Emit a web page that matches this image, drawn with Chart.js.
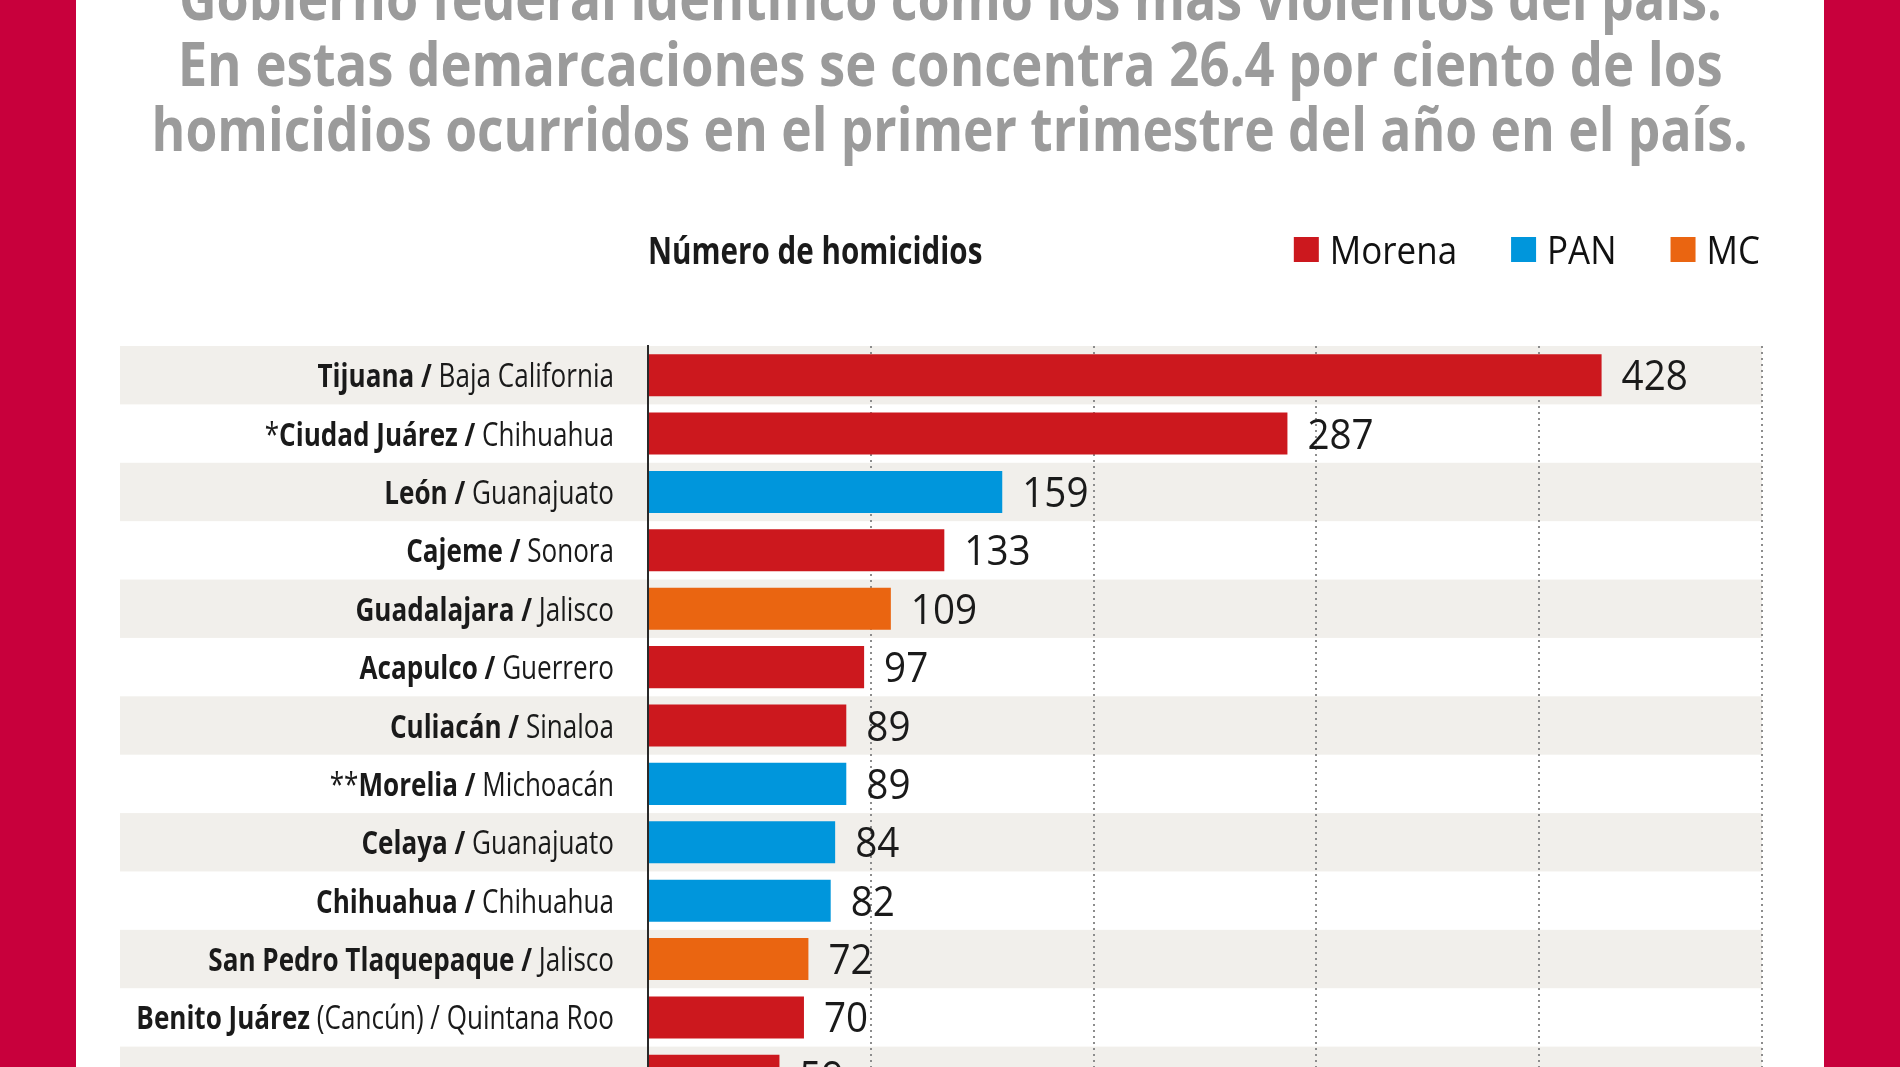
<!DOCTYPE html>
<html><head><meta charset="utf-8">
<script src="https://cdn.jsdelivr.net/npm/chart.js@4.4.1/dist/chart.umd.min.js"></script>
<style>
html,body{margin:0;padding:0;width:1900px;height:1067px;overflow:hidden;background:#c8003c;}
#panel{position:absolute;left:76px;top:0;width:1748px;height:1067px;background:#fff;}
.tl{position:absolute;left:0;width:1900px;text-align:center;font-family:'Open Sans';font-weight:700;font-size:61px;line-height:61px;color:#9b9b9b;white-space:nowrap;}
.tl span{display:inline-block;transform-origin:50% 50%;}
#wrap{position:absolute;left:0;top:0;width:1900px;height:1110px;}
</style></head>
<body>
<div id="panel"></div>
<div class="tl" style="top:-34px"><span data-w="1543">Gobierno federal identificó como los más violentos del país.</span></div>
<div class="tl" style="top:32px"><span data-w="1545">En estas demarcaciones se concentra 26.4 por ciento de los</span></div>
<div class="tl" style="top:97px"><span data-w="1596">homicidios ocurridos en el primer trimestre del año en el país.</span></div>
<div id="wrap"><canvas id="c" width="1900" height="1110"></canvas></div>
<script>
// ---- data ----
const municipios = ['Tijuana','Ciudad Juárez','León','Cajeme','Guadalajara','Acapulco','Culiacán','Morelia','Celaya','Chihuahua','San Pedro Tlaquepaque','Benito Juárez',''];
const prefijos   = ['','*','','','','','','**','','','','',''];
const notas      = ['','','','','','','','','','','','(Cancún)',''];
const estados    = ['Baja California','Chihuahua','Guanajuato','Sonora','Jalisco','Guerrero','Sinaloa','Michoacán','Guanajuato','Chihuahua','Jalisco','Quintana Roo',''];
const homicidios = [428,287,159,133,109,97,89,89,84,82,72,70,59];
const partidos   = ['Morena','Morena','PAN','Morena','MC','Morena','Morena','PAN','PAN','PAN','MC','Morena','Morena'];
const partidoNombres = ['Morena','PAN','MC'];
const ejeTicks = [0,100,200,300,400,500];
const tituloEje = 'Número de homicidios';

// ---- styles ----
const partidoColores = ['#cc181e','#0096dc','#ea6511'];
const FONT = "'Open Sans'";

document.querySelectorAll('.tl span').forEach(s => {
  const w = s.getBoundingClientRect().width;
  s.style.transform = 'scaleX(' + (parseFloat(s.dataset.w) / w) + ')';
});

const categorias = municipios.map((m, i) => prefijos[i] + m + (notas[i] ? ' ' + notas[i] : '') + (estados[i] ? ' / ' + estados[i] : ''));

const datasets = partidoNombres.map((p, k) => ({
  label: p,
  data: homicidios.map((v, i) => partidos[i] === p ? v : null),
  backgroundColor: partidoColores[k],
  borderWidth: 0,
  barPercentage: 0.72,
  categoryPercentage: 1
}));

function drawSegs(ctx, segs, x, yBase, sx, align) {
  let total = 0;
  segs.forEach(s => { ctx.font = s.f; s.w = ctx.measureText(s.t).width; total += s.w; });
  ctx.save();
  ctx.textAlign = 'left';
  ctx.textBaseline = 'alphabetic';
  const x0 = align === 'right' ? x - total * sx : x;
  ctx.translate(x0, yBase);
  ctx.scale(sx, 1);
  let cx = 0;
  segs.forEach(s => { ctx.font = s.f; ctx.fillStyle = s.c || '#1a1a1a'; ctx.fillText(s.t, cx, 0); cx += s.w; });
  ctx.restore();
  return total * sx;
}

const bandas = {
  id: 'bandas',
  beforeDraw(chart) {
    const ctx = chart.ctx, y = chart.scales.y, ca = chart.chartArea;
    const step = Math.abs(y.getPixelForValue(1) - y.getPixelForValue(0));
    ctx.save();
    ctx.fillStyle = '#f1efeb';
    for (let i = 0; i < categorias.length; i += 2) {
      const c = y.getPixelForValue(i);
      ctx.fillRect(120, c - step / 2, ca.right - 120, step);
    }
    ctx.restore();
  }
};

const textos = {
  id: 'textos',
  afterDraw(chart) {
    const ctx = chart.ctx, y = chart.scales.y, ca = chart.chartArea;
    const B = '700 33px ' + FONT, R = '400 33px ' + FONT;
    // row labels
    municipios.forEach((m, i) => {
      if (!m) return;
      const segs = [];
      if (prefijos[i]) segs.push({t: prefijos[i], f: R});
      if (notas[i]) {
        segs.push({t: m, f: B});
        segs.push({t: ' ' + notas[i] + ' / ', f: R});
      } else {
        segs.push({t: m + ' /', f: B});
        segs.push({t: ' ', f: R});
      }
      segs.push({t: estados[i], f: R});
      drawSegs(ctx, segs, 614, y.getPixelForValue(i) + 12, 0.79, 'right');
    });
    // value labels
    chart.data.datasets.forEach((ds, k) => {
      const meta = chart.getDatasetMeta(k);
      ds.data.forEach((v, i) => {
        if (v === null) return;
        const el = meta.data[i];
        drawSegs(ctx, [{t: String(v), f: '400 42px ' + FONT}], el.x + 20, el.y + 15, 0.92, 'left');
      });
    });
    // axis heading
    drawSegs(ctx, [{t: tituloEje, f: '700 37px ' + FONT}], ca.left, 264, 0.80, 'left');
    // legend
    const lf = '400 38px ' + FONT, lsx = 0.92, box = 25, gapT = 11, gapI = 54;
    ctx.font = lf;
    const widths = partidoNombres.map(p => ctx.measureText(p).width * lsx);
    let total = 0;
    widths.forEach((w, k) => { total += box + gapT + w + (k < widths.length - 1 ? gapI : 0); });
    let x = 1760 - total;
    partidoNombres.forEach((p, k) => {
      ctx.fillStyle = partidoColores[k];
      ctx.fillRect(x, 237, box, box);
      x += box + gapT;
      drawSegs(ctx, [{t: p, f: lf, c: '#111'}], x, 264, lsx, 'left');
      x += widths[k] + gapI;
    });
  }
};

new Chart(document.getElementById('c'), {
  type: 'bar',
  data: { labels: categorias, datasets },
  options: {
    indexAxis: 'y',
    responsive: false,
    animation: false,
    devicePixelRatio: 1,
    layout: { padding: { left: 648, right: 138, top: 346, bottom: 5 } },
    plugins: { legend: { display: false }, tooltip: { enabled: false }, title: { display: false } },
    scales: {
      x: {
        stacked: true, min: 0, max: 500,
        afterBuildTicks: s => { s.ticks = ejeTicks.map(v => ({value: v})); },
        ticks: { display: false },
        grid: { drawTicks: false, lineWidth: 2, color: c => (c.tick && c.tick.value === 0) ? 'rgba(0,0,0,0)' : '#8d8d8d' },
        border: { display: false, dash: [2, 4] }
      },
      y: {
        stacked: true,
        ticks: { display: false },
        grid: { display: false, drawTicks: false },
        border: { display: true, color: '#2a2a2a', width: 2 }
      }
    }
  },
  plugins: [bandas, textos]
});
</script>
</body></html>
